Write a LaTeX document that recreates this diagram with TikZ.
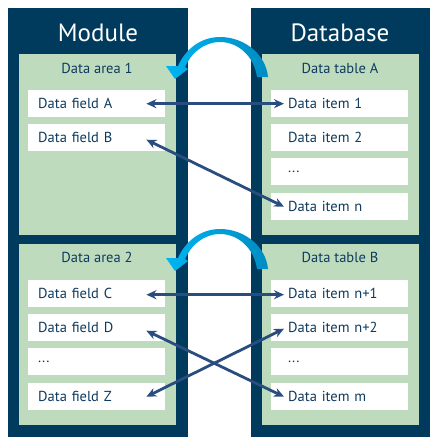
\documentclass[tikz,border=0pt]{standalone}
\usepackage{fontspec}
\setmainfont{PT Sans}
\usetikzlibrary{arrows.meta,calc}
\definecolor{navy}{HTML}{003A5D}
\definecolor{txtc}{HTML}{0E3A5E}
\definecolor{areagreen}{HTML}{BEDCBD}
\definecolor{arrc}{HTML}{2A4D80}
\definecolor{cyL}{HTML}{00B4F2}
\definecolor{cyD}{HTML}{008CC2}
\begin{document}
\begin{tikzpicture}[x=1pt,y=-1pt,
  title/.style={text=white,font=\fontsize{25}{28}\selectfont,inner sep=0pt},
  arealabel/.style={text=txtc,font=\fontsize{14.5}{16}\selectfont,inner sep=0pt},
  lcell/.style={fill=white,anchor=north west,text=txtc,font=\fontsize{14.5}{16}\selectfont,
    inner xsep=10pt,inner ysep=0pt,text width=117pt,minimum height=27pt,align=left},
  rcell/.style={fill=white,anchor=north west,text=txtc,font=\fontsize{14.5}{16}\selectfont,
    inner xsep=17pt,inner ysep=0pt,text width=103pt,minimum height=27pt,align=left},
  conn/.style={draw=arrc,line width=2.8pt,{Stealth[length=10pt,width=9pt]}-{Stealth[length=10pt,width=9pt]}},
  arcshade/.style={left color=cyL,right color=cyD}
]
\useasboundingbox (0,0) rectangle (442,448);
% outer boxes
\fill[navy] (8,8) rectangle (188,437);
\fill[navy] (251,8) rectangle (430,437);
% green areas
\fill[areagreen] (19,54) rectangle (176,235);
\fill[areagreen] (19,244) rectangle (176,425);
\fill[areagreen] (262,54) rectangle (419,235);
\fill[areagreen] (262,244) rectangle (419,425);
% titles
\node[title] (mod) at (98,33) {Module};
\node[title] (db) at (340,33) {Database};
\node[arealabel] (ar1) at (97,68) {Data area 1};
\node[arealabel] (ar2) at (97,257) {Data area 2};
\node[arealabel] (tbA) at (340,68) {Data table A};
\node[arealabel] (tbB) at (340,257) {Data table B};
% left cells
\node[lcell] (fA) at (28,90) {Data field A};
\node[lcell] (fB) at (28,124) {Data field B};
\node[lcell] (fC) at (28,280) {Data field C};
\node[lcell] (fD) at (28,314) {Data field D};
\node[lcell] (fdots) at (28,348) {...};
\node[lcell] (fZ) at (28,383) {Data field Z};
% right cells
\node[rcell] (i1) at (271,90) {Data item 1};
\node[rcell] (i2) at (271,124) {Data item 2};
\node[rcell] (idotsA) at (271,158) {...};
\node[rcell] (in) at (271,193) {Data item n};
\node[rcell] (in1) at (271,280) {Data item n+1};
\node[rcell] (in2) at (271,314) {Data item n+2};
\node[rcell] (idotsB) at (271,348) {...};
\node[rcell] (im) at (271,383) {Data item m};
% connectors
\draw[conn] ([xshift=-19pt]fA.east) -- ([xshift=13pt]i1.west);
\draw[conn] ([xshift=-19pt,yshift=-2pt]fB.east) -- ([xshift=13pt]in.west);
\draw[conn] ([xshift=-19pt,yshift=-1pt]fC.east) -- ([xshift=13pt,yshift=-1pt]in1.west);
\draw[conn] ([xshift=-19pt,yshift=-3pt]fD.east) -- ([xshift=13pt]im.west);
\draw[conn] ([xshift=-19pt]fZ.east) -- ([xshift=13pt,yshift=-1pt]in2.west);
% curved arrows
\foreach \dy in {0,192}{
\begin{scope}[shift={(0,\dy)}]
\shade[arcshade] (268,77) .. controls (266,55) and (245,37) .. (220,37)
  .. controls (200,37) and (185,50) .. (178,66)
  -- (166,66) -- (175,79) -- (188,69) -- (185,67)
  .. controls (191,53) and (204,42) .. (220,42)
  .. controls (238,42) and (254,56) .. (257,77) -- cycle;
\end{scope}
}
\end{tikzpicture}
\end{document}
